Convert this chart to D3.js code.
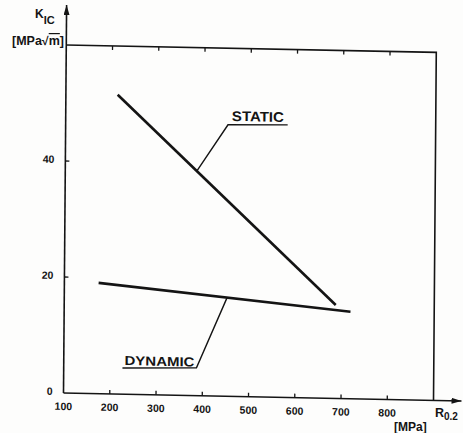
<!DOCTYPE html>
<html>
<head>
<meta charset="utf-8">
<script src="https://cdn.jsdelivr.net/npm/d3@7"></script>
<style>
  html, body { margin: 0; padding: 0; background: #fdfdfc; }
  svg { display: block; font-family: "Liberation Sans", Arial, sans-serif; font-weight: bold; }
</style>
</head>
<body>
<div id="chart"></div>
<script>
// axis ticks
const xTicks = [100, 200, 300, 400, 500, 600, 700, 800];
const xTopTicks = [200, 300, 400, 500, 600, 700, 800];
const yTicks = [0, 20, 40];

// curves (R0.2 in MPa, KIc in MPa sqrt m)
const staticX = [212, 687];
const staticY = [51.6, 16.1];
const dynamicX = [174, 719];
const dynamicY = [19.1, 15.0];

// label leaders
const staticLeaderX = [385, 451, 580];
const staticLeaderY = [38.8, 46.8, 47.0];
const dynamicLeaderX = [227, 387, 452];
const dynamicLeaderY = [4.5, 4.8, 17.0];

const width = 463;
const height = 433;

const svg = d3.select('#chart')
  .append('svg')
  .attr('width', width)
  .attr('height', height)
  .attr('viewBox', `0 0 ${width} ${height}`);

svg.append('rect').attr('width', width).attr('height', height).attr('fill', '#fdfdfc');

const ink = '#141414';

const defs = svg.append('defs');
defs.append('marker')
  .attr('id', 'arrow')
  .attr('viewBox', '0 0 10 6')
  .attr('refX', 10).attr('refY', 3)
  .attr('markerWidth', 10).attr('markerHeight', 6)
  .attr('markerUnits', 'userSpaceOnUse')
  .attr('orient', 'auto')
  .append('path')
  .attr('d', 'M0,0 L10,3 L0,6 Z')
  .attr('fill', ink);

// the scan is slightly skewed, so the plot sits in a sheared group
const g = svg.append('g')
  .attr('transform', 'matrix(1,0.02,-0.008,1,63.5,393)');

const x = d3.scaleLinear([100, 900], [0, 370]);
const y = d3.scaleLinear([0, 60], [0, -348]);

// frame: top and right
g.append('path')
  .attr('d', `M${x(100)},${y(60)} H${x(900)} V${y(0)}`)
  .attr('fill', 'none')
  .attr('stroke', ink)
  .attr('stroke-width', 1.6);

// axes with arrows
g.append('line')
  .attr('x1', x(100)).attr('y1', y(0))
  .attr('x2', x(100)).attr('y2', y(0) - 388)
  .attr('stroke', ink).attr('stroke-width', 1.6)
  .attr('marker-end', 'url(#arrow)');

g.append('line')
  .attr('x1', x(100)).attr('y1', y(0))
  .attr('x2', x(900) + 28).attr('y2', y(0))
  .attr('stroke', ink).attr('stroke-width', 1.6)
  .attr('marker-end', 'url(#arrow)');

// ticks
g.selectAll('.xtick')
  .data(xTicks.slice(1))
  .enter()
  .append('line')
  .attr('x1', d => x(d)).attr('x2', d => x(d))
  .attr('y1', y(0)).attr('y2', y(0) - 4)
  .attr('stroke', ink).attr('stroke-width', 1.3);

g.selectAll('.ttick')
  .data(xTopTicks)
  .enter()
  .append('line')
  .attr('x1', d => x(d)).attr('x2', d => x(d))
  .attr('y1', y(60)).attr('y2', y(60) + 4)
  .attr('stroke', ink).attr('stroke-width', 1.3);

g.selectAll('.ytick')
  .data(yTicks.slice(1))
  .enter()
  .append('line')
  .attr('x1', x(100)).attr('x2', x(100) + 4)
  .attr('y1', d => y(d)).attr('y2', d => y(d))
  .attr('stroke', ink).attr('stroke-width', 1.3);

g.selectAll('.xlabel')
  .data(xTicks)
  .enter()
  .append('text')
  .attr('x', d => x(d))
  .attr('y', y(0) + 17)
  .attr('text-anchor', 'middle')
  .attr('font-size', 10.5)
  .attr('fill', ink)
  .text(d => d);

g.selectAll('.ylabel')
  .data(yTicks)
  .enter()
  .append('text')
  .attr('x', x(100) - 11)
  .attr('y', d => y(d))
  .attr('dy', '0.2em')
  .attr('text-anchor', 'end')
  .attr('font-size', 10.5)
  .attr('fill', ink)
  .text(d => d);

// curves
const line = d3.line().x(d => x(d[0])).y(d => y(d[1]));

g.append('path')
  .attr('d', line(d3.zip(staticX, staticY)))
  .attr('fill', 'none').attr('stroke', ink)
  .attr('stroke-width', 2.6);

g.append('path')
  .attr('d', line(d3.zip(dynamicX, dynamicY)))
  .attr('fill', 'none').attr('stroke', ink)
  .attr('stroke-width', 2.6);

// leaders and labels
g.append('path')
  .attr('d', line(d3.zip(staticLeaderX, staticLeaderY)))
  .attr('fill', 'none').attr('stroke', ink)
  .attr('stroke-width', 1.4);

g.append('text')
  .attr('x', (x(staticLeaderX[1]) + x(staticLeaderX[2])) / 2)
  .attr('y', y(staticLeaderY[1]) - 4)
  .attr('text-anchor', 'middle')
  .attr('font-size', 14)
  .attr('textLength', 52)
  .attr('lengthAdjust', 'spacingAndGlyphs')
  .attr('fill', ink)
  .text('STATIC');

g.append('path')
  .attr('d', line(d3.zip(dynamicLeaderX, dynamicLeaderY)))
  .attr('fill', 'none').attr('stroke', ink)
  .attr('stroke-width', 1.4);

g.append('text')
  .attr('x', (x(dynamicLeaderX[0]) + x(dynamicLeaderX[1])) / 2)
  .attr('y', y(dynamicLeaderY[0]) - 3)
  .attr('text-anchor', 'middle')
  .attr('font-size', 13)
  .attr('textLength', 70)
  .attr('lengthAdjust', 'spacingAndGlyphs')
  .attr('fill', ink)
  .text('DYNAMIC');

// axis titles
const ky = svg.append('text')
  .attr('x', 35).attr('y', 18)
  .attr('font-size', 12)
  .attr('fill', ink);
ky.append('tspan').text('K');
ky.append('tspan').attr('dy', 6).attr('font-size', 11).text('IC');

const unitY = svg.append('text')
  .attr('x', 12).attr('y', 45)
  .attr('font-size', 12)
  .attr('textLength', 52)
  .attr('lengthAdjust', 'spacingAndGlyphs')
  .attr('fill', ink);
unitY.append('tspan').text('[MPa√');
unitY.append('tspan').style('text-decoration', 'overline').text('m');
unitY.append('tspan').text(']');

const rx = svg.append('text')
  .attr('x', 435).attr('y', 417)
  .attr('font-size', 12.5)
  .attr('fill', ink);
rx.append('tspan').text('R');
rx.append('tspan').attr('dy', 3).attr('font-size', 10).text('0.2');

svg.append('text')
  .attr('x', 394).attr('y', 431)
  .attr('font-size', 12)
  .attr('fill', ink)
  .text('[MPa]');
</script>
</body>
</html>
